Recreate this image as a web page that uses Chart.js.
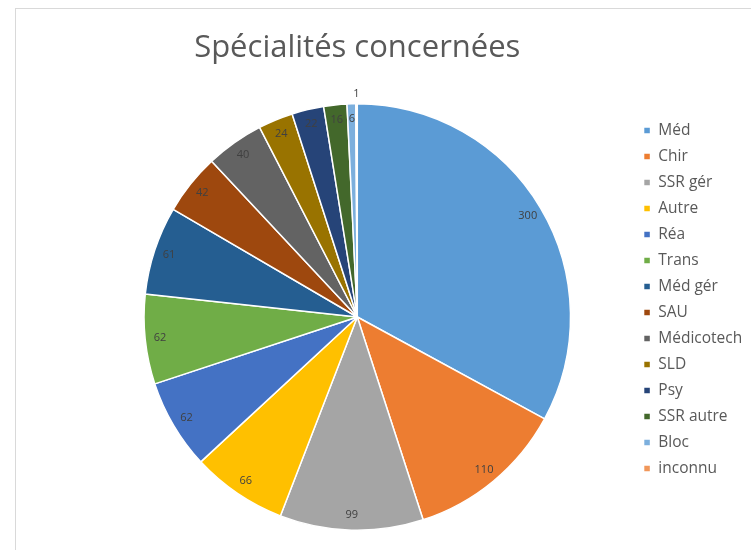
<!DOCTYPE html>
<html lang="fr">
<head>
    <meta charset="UTF-8">
    <title>Spécialités concernées</title>
    <script src="https://cdn.jsdelivr.net/npm/chart.js"></script>
    <style>
        html, body { margin: 0; padding: 0; background: #fff; }
        .frame {
            position: absolute;
            left: 15px;
            top: 8px;
            width: 760px;
            height: 560px;
            border-top: 1px solid #d9d9d9;
            border-left: 1px solid #d9d9d9;
        }
        .wrap { position: absolute; left: 0; top: 0; width: 751px; height: 550px; }
    </style>
</head>
<body>
    <div class="frame"></div>
    <div class="wrap">
        <canvas id="pieChart" width="751" height="550"></canvas>
    </div>

    <script>
        // Specialty categories and number of cases
        const labels = ['Méd', 'Chir', 'SSR gér', 'Autre', 'Réa', 'Trans', 'Méd gér', 'SAU', 'Médicotech', 'SLD', 'Psy', 'SSR autre', 'Bloc', 'inconnu'];
        const counts = [300, 110, 99, 66, 62, 62, 61, 42, 40, 24, 22, 16, 6, 1];
        const colors = ['#5B9BD5', '#ED7D31', '#A5A5A5', '#FFC000', '#4472C4', '#70AD47', '#255E91', '#9E480E', '#636363', '#997300', '#264478', '#43682B', '#7CAFDD', '#F1975A'];

        const FONT = '"Open Sans", "Noto Sans", sans-serif';

        // Value labels near the outer edge of each slice (small slices go outside)
        const sliceValues = {
            id: 'sliceValues',
            afterDatasetsDraw(chart) {
                const ctx = chart.ctx;
                const meta = chart.getDatasetMeta(0);
                const total = counts.reduce((a, b) => a + b, 0);
                ctx.save();
                ctx.font = '11px ' + FONT;
                ctx.fillStyle = '#404040';
                ctx.textAlign = 'center';
                ctx.textBaseline = 'middle';
                meta.data.forEach((arc, i) => {
                    const p = arc.getProps(['x', 'y', 'startAngle', 'endAngle', 'outerRadius'], true);
                    const mid = (p.startAngle + p.endAngle) / 2;
                    const r = counts[i] / total < 0.004 ? p.outerRadius + 10 : p.outerRadius * 0.93;
                    ctx.fillText(String(counts[i]), p.x + Math.cos(mid) * r, p.y + Math.sin(mid) * r);
                });
                ctx.restore();
            }
        };

        new Chart(document.getElementById('pieChart'), {
            type: 'pie',
            data: {
                labels: labels,
                datasets: [{
                    data: counts,
                    backgroundColor: colors,
                    borderColor: '#ffffff',
                    borderWidth: 1.5
                }]
            },
            options: {
                responsive: false,
                animation: false,
                layout: { padding: { left: 81.5, right: -1.25, top: 0, bottom: 19 } },
                plugins: {
                    title: {
                        display: true,
                        fullSize: false,
                        text: 'Spécialités concernées',
                        color: '#595959',
                        font: { family: FONT, size: 31, weight: 'normal' },
                        padding: { top: 29.4, bottom: 36.4 }
                    },
                    legend: {
                        position: 'right',
                        align: 'start',
                        // empty title only pushes the items down
                        title: { display: true, text: '', font: { size: 1 }, padding: { top: 111, bottom: 0 } },
                        labels: {
                            color: '#595959',
                            font: { family: FONT, size: 15.5 },
                            boxWidth: 7,
                            boxHeight: 7,
                            padding: 10.5
                        }
                    },
                    tooltip: { enabled: false }
                }
            },
            plugins: [sliceValues]
        });
    </script>
</body>
</html>
